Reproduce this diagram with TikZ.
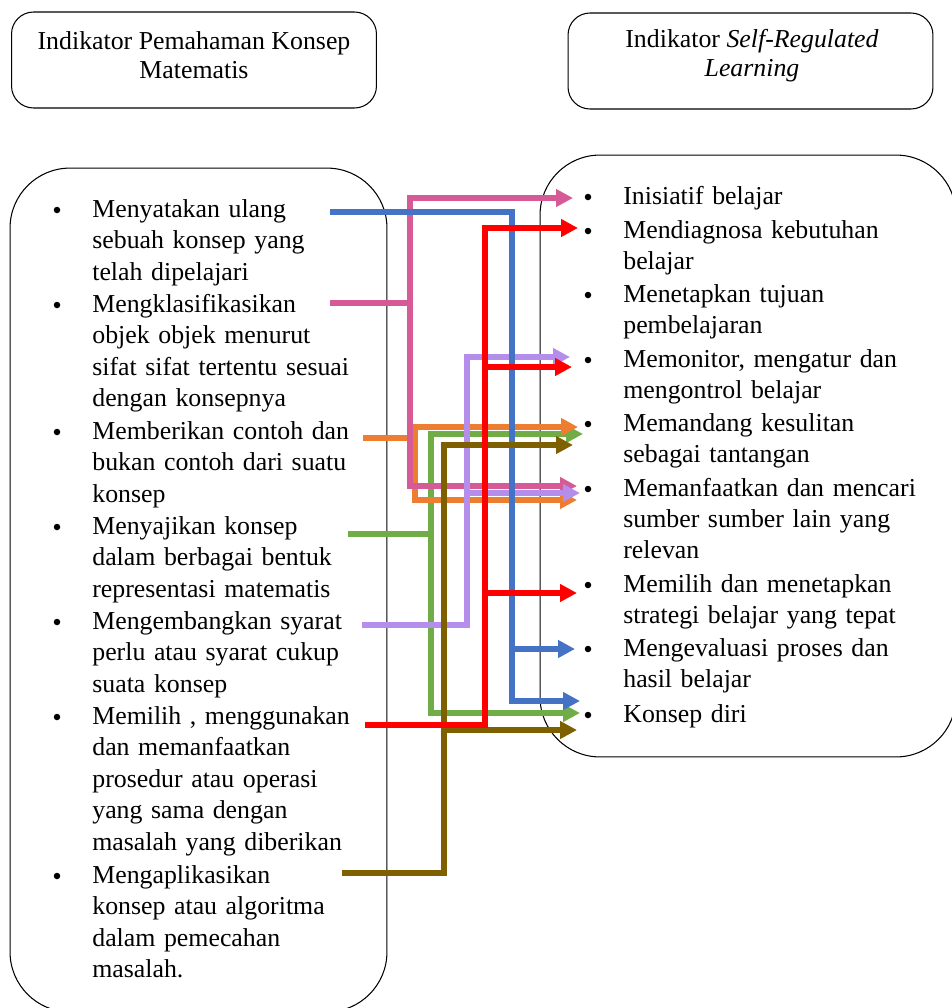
\documentclass[tikz,border=0pt]{standalone}
\usepackage{fontspec}
\setmainfont{Liberation Serif}
\usetikzlibrary{arrows.meta,positioning}
\definecolor{lnblue}{HTML}{4472C4}
\definecolor{lnpink}{HTML}{D65A96}
\definecolor{lnred}{HTML}{FF0000}
\definecolor{lnlilac}{HTML}{B58DEB}
\definecolor{lnorange}{HTML}{ED7D31}
\definecolor{lngreen}{HTML}{70AD47}
\definecolor{lnbrown}{HTML}{7F6000}

\begin{document}
\begin{tikzpicture}[x=0.02cm, y=-0.02cm]
	\tikzstyle{box_head}
	  =[draw, rounded corners=0.44cm, line width=0.6pt, 
	  minimum width=7.3cm, minimum height=1.92cm]
	\tikzstyle{head_txt}
	  =[inner sep=0pt, align=center, 
	  font=\fontsize{14.7}{16.6}\selectfont]
	\tikzstyle{box_list}
	  =[draw, rounded corners=1.2cm, line width=0.6pt]
	\tikzstyle{item_l}
	  =[anchor=base west, inner sep=0pt, text width=6cm, align=left, 
	  font=\fontsize{14.7}{18}\selectfont]
	\tikzstyle{item_r}
	  =[item_l, font=\fontsize{14.7}{17.8}\selectfont]
	\tikzstyle{bullet_pt}
	  =[circle, fill=black, inner sep=0pt, minimum size=0.13cm]
	\tikzstyle{line_c}=[line width=3pt]
	\tikzstyle{arrow_end}=[-{Triangle[length=0.34cm,width=0.34cm]}]
	\tikzstyle{arrow_start}=[{Triangle[length=0.34cm,width=0.34cm]}-]
	\tikzstyle{arrow_both}
	  =[{Triangle[length=0.34cm,width=0.34cm]}-{Triangle[length=0.34cm,width=0.34cm]}]

	\useasboundingbox (0,0) rectangle (952,1008);

	% headers and panels
	\node[box_head] (headL) at (194,60) {};
	\node[head_txt] (titleL) at (194,55.5) 
	  {Indikator Pemahaman Konsep\\Matematis};
	\node[box_head] (headR) at (750.5,61) {};
	\node[head_txt] (titleR) at (752,56) 
	  {Indikator \textit{Self-Regulated}\\\textit{Learning}};
	\node[box_list, minimum width=7.54cm, minimum height=16.88cm] 
	  (panelL) at (198.5,590) {};
	\node[box_list, minimum width=8.32cm, minimum height=12.04cm] 
	  (panelR) at (748,456) {};

	% left list
	\node[item_l] (itemL1) at (92,217) 
	  {Menyatakan ulang\\sebuah konsep yang\\telah dipelajari};
	\node[item_l] (itemL2) at (92,312) 
	  {Mengklasifikasikan\\objek objek menurut\\sifat sifat tertentu sesuai\\dengan konsepnya};
	\node[item_l] (itemL3) at (92,439) 
	  {Memberikan contoh dan\\bukan contoh dari suatu\\konsep};
	\node[item_l] (itemL4) at (92,534) 
	  {Menyajikan konsep\\dalam berbagai bentuk\\representasi matematis};
	\node[item_l] (itemL5) at (92,629) 
	  {Mengembangkan syarat\\perlu atau syarat cukup\\suata konsep};
	\node[item_l] (itemL6) at (92,724) 
	  {Memilih , menggunakan\\dan memanfaatkan\\prosedur atau operasi\\yang sama dengan\\masalah yang diberikan};
	\node[item_l] (itemL7) at (92,883) 
	  {Mengaplikasikan\\konsep atau algoritma\\dalam pemecahan\\masalah.};
	\foreach \i in {1,...,7}
	  \node[bullet_pt] (dotL\i) at ([xshift=-0.7cm, yshift=0.14cm]itemL\i.base west) {};

	% right list
	\node[item_r] (itemR1) at (623,204) {Inisiatif belajar};
	\node[item_r] (itemR2) at (623,238) {Mendiagnosa kebutuhan\\belajar};
	\node[item_r] (itemR3) at (623,302) {Menetapkan tujuan\\pembelajaran};
	\node[item_r] (itemR4) at (623,367) {Memonitor, mengatur dan\\mengontrol belajar};
	\node[item_r] (itemR5) at (623,431) {Memandang kesulitan\\sebagai tantangan};
	\node[item_r] (itemR6) at (623,496) 
	  {Memanfaatkan dan mencari\\sumber sumber lain yang\\relevan};
	\node[item_r] (itemR7) at (623,592) 
	  {Memilih dan menetapkan\\strategi belajar yang tepat};
	\node[item_r] (itemR8) at (623,656) {Mengevaluasi proses dan\\hasil belajar};
	\node[item_r] (itemR9) at (623,722) {Konsep diri};
	\foreach \i in {1,...,9}
	  \node[bullet_pt] (dotR\i) at ([xshift=-0.7cm, yshift=0.14cm]itemR\i.base west) {};

	% connector ends
	\coordinate (tB) at (330,212);  \coordinate (jB) at (512,701);
	\coordinate (hB1) at (575,649); \coordinate (hB2) at (580,701);
	\coordinate (tP) at (330,303);  \coordinate (jP) at (410,486);
	\coordinate (hP1) at (573,198); \coordinate (hP2) at (577,486);
	\coordinate (tR) at (365,725);  \coordinate (jR) at (485,725);
	\coordinate (hR1) at (578,228); \coordinate (hR2) at (572,367);
	\coordinate (hR3) at (577,593);
	\coordinate (tL) at (362,625);  \coordinate (jL) at (467,625);
	\coordinate (hL1) at (570,357); \coordinate (hL2) at (580,493);
	\coordinate (tO) at (363,438);  \coordinate (jO) at (415,500);
	\coordinate (hO1) at (578,427); \coordinate (hO2) at (577,500);
	\coordinate (tG) at (348,534);  \coordinate (jG) at (431,713);
	\coordinate (hG1) at (583,434); \coordinate (hG2) at (580,713);
	\coordinate (tW) at (342,873);  \coordinate (jW) at (444,873);
	\coordinate (hW1) at (573,445); \coordinate (hW2) at (577,730);

	% connectors
	\draw[line_c, lngreen, arrow_both] (hG1) -| (jG) -- (hG2);
	\draw[line_c, lngreen] (tG) -- (tG -| jG);
	\draw[line_c, lnorange, arrow_both] (hO1) -| (jO) -- (hO2);
	\draw[line_c, lnorange] (tO) -- (tO -| jO);
	\draw[line_c, lnpink, arrow_both] (hP1) -| (jP) -- (hP2);
	\draw[line_c, lnpink] (tP) -- (tP -| jP);
	\draw[line_c, lnlilac, arrow_start] (hL1) -| (jL) -- (tL);
	\draw[line_c, lnlilac, arrow_end] (jL |- hL2) -- (hL2);
	\draw[line_c, lnblue, arrow_end] (tB) -| (jB) -- (hB2);
	\draw[line_c, lnblue, arrow_end] (jB |- hB1) -- (hB1);
	\draw[line_c, lnbrown, arrow_start] (hW1) -| (jW) -- (tW);
	\draw[line_c, lnbrown, arrow_end] (jW |- hW2) -- (hW2);
	\draw[line_c, lnred, arrow_start] (hR1) -| (jR) -- (tR);
	\draw[line_c, lnred, arrow_end] (jR |- hR2) -- (hR2);
	\draw[line_c, lnred, arrow_end] (jR |- hR3) -- (hR3);
\end{tikzpicture}
\end{document}
